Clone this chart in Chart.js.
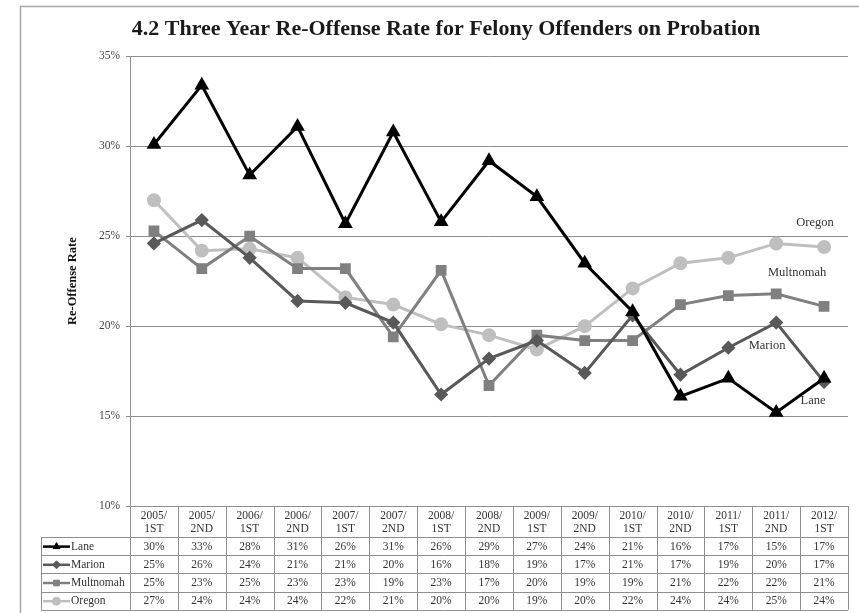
<!DOCTYPE html>
<html>
<head>
<meta charset="utf-8">
<script src="https://cdn.jsdelivr.net/npm/chart.js@4.4.1/dist/chart.umd.min.js"></script>
<style>
  body { margin: 0; background: #fff; }
  canvas { display: block; }
</style>
</head>
<body>
<canvas id="myChart" width="859" height="613"></canvas>
<script>
// categories (half-years), shown in the data table under the plot
var categories = ['2005/|1ST', '2005/|2ND', '2006/|1ST', '2006/|2ND', '2007/|1ST', '2007/|2ND',
  '2008/|1ST', '2008/|2ND', '2009/|1ST', '2009/|2ND', '2010/|1ST', '2010/|2ND',
  '2011/|1ST', '2011/|2ND', '2012/|1ST'];

// re-offense rates in percent
var lane      = [30.1, 33.4, 28.4, 31.1, 25.7, 30.8, 25.8, 29.2, 27.2, 23.5, 20.8, 16.1, 17.1, 15.2, 17.1];
var marion    = [24.6, 25.9, 23.8, 21.4, 21.3, 20.2, 16.2, 18.2, 19.2, 17.4, 20.6, 17.3, 18.8, 20.2, 16.9];
var multnomah = [25.3, 23.2, 25.0, 23.2, 23.2, 19.4, 23.1, 16.7, 19.5, 19.2, 19.2, 21.2, 21.7, 21.8, 21.1];
var oregon    = [27.0, 24.2, 24.3, 23.8, 21.6, 21.2, 20.1, 19.5, 18.7, 20.0, 22.1, 23.5, 23.8, 24.6, 24.4];

var yTicks = [10, 15, 20, 25, 30, 35];

var serif = "'Liberation Serif', 'DejaVu Serif', serif";
var gridColor = '#8e8e8e';
var textColor = '#333333';

// end-of-line labels, offset from the last point of each series
var endLabels = [
  { ds: 3, text: 'Oregon', dx: -9, dy: -24 },
  { ds: 2, text: 'Multnomah', dx: -27, dy: -34 },
  { ds: 1, text: 'Marion', dx: -57, dy: -36 },
  { ds: 0, text: 'Lane', dx: -11, dy: 22 }
];

function marker(ctx, style, radius, color, x, y) {
  if (Chart.helpers && Chart.helpers.drawPoint) {
    ctx.save();
    ctx.fillStyle = color;
    ctx.strokeStyle = color;
    ctx.lineWidth = 1;
    Chart.helpers.drawPoint(ctx, { pointStyle: style, radius: radius, rotation: 0, borderWidth: 1 }, x, y);
    ctx.restore();
  }
}

var tablePlugin = {
  id: 'dataTable',
  beforeDraw: function(chart) {
    var ctx = chart.ctx;
    ctx.save();
    ctx.fillStyle = '#fff';
    ctx.fillRect(0, 0, chart.width, chart.height);
    ctx.strokeStyle = '#a8a8a8';
    ctx.lineWidth = 1.5;
    ctx.strokeRect(20.5, 6.5, chart.width + 20, chart.height + 20);
    ctx.restore();
  },
  afterDraw: function(chart) {
    var ctx = chart.ctx;
    var x = chart.scales.x;
    var area = chart.chartArea;
    var n = categories.length;
    var colW = (area.right - area.left) / n;
    var top = area.bottom;
    var headH = 31;
    var rowH = 18.2;
    var legendLeft = 41;
    var bottom = top + headH + rowH * chart.data.datasets.length;

    ctx.save();
    ctx.strokeStyle = gridColor;
    ctx.lineWidth = 1;
    ctx.beginPath();
    // vertical column lines
    for (var i = 0; i <= n; i++) {
      var vx = Math.round(area.left + colW * i) + 0.5;
      ctx.moveTo(vx, top);
      ctx.lineTo(vx, bottom);
    }
    ctx.moveTo(legendLeft + 0.5, top + headH);
    ctx.lineTo(legendLeft + 0.5, bottom);
    for (var r = 0; r <= chart.data.datasets.length; r++) {
      var hy = Math.round(top + headH + rowH * r) + 0.5;
      ctx.moveTo(legendLeft, hy);
      ctx.lineTo(area.right, hy);
    }
    ctx.stroke();

    ctx.fillStyle = textColor;
    ctx.font = '11.5px ' + serif;
    ctx.textAlign = 'center';
    ctx.textBaseline = 'middle';
    categories.forEach(function(c, i) {
      var cx = x.getPixelForValue(i);
      var parts = c.split('|');
      ctx.fillText(parts[0], cx, top + 10);
      ctx.fillText(parts[1], cx, top + 23);
    });

    chart.data.datasets.forEach(function(ds, d) {
      var cy = top + headH + rowH * d + rowH / 2 + 0.5;
      ds.data.forEach(function(v, i) {
        ctx.fillStyle = textColor;
        ctx.textAlign = 'center';
        ctx.fillText(Math.round(v) + '%', x.getPixelForValue(i), cy);
      });
      // legend key
      ctx.strokeStyle = ds.borderColor;
      ctx.lineWidth = 2.5;
      ctx.beginPath();
      ctx.moveTo(43, cy);
      ctx.lineTo(70, cy);
      ctx.stroke();
      marker(ctx, ds.pointStyle, 4, ds.borderColor, 56.5, cy);
      ctx.fillStyle = textColor;
      ctx.textAlign = 'left';
      ctx.fillText(ds.label, 71, cy);
    });

    // labels at the ends of the lines
    ctx.font = '12.5px ' + serif;
    ctx.textAlign = 'center';
    ctx.fillStyle = textColor;
    endLabels.forEach(function(l) {
      var meta = chart.getDatasetMeta(l.ds);
      var p = meta.data[meta.data.length - 1];
      ctx.fillText(l.text, p.x + l.dx, p.y + l.dy);
    });
    ctx.restore();
  }
};

var ctx = document.getElementById('myChart').getContext('2d');
var chart = new Chart(ctx, {
  type: 'line',
  data: {
    labels: categories,
    datasets: [{
      label: 'Lane',
      data: lane,
      borderColor: '#000000',
      backgroundColor: '#000000',
      pointStyle: 'triangle',
      pointRadius: 5.5,
      borderWidth: 3
    },
    {
      label: 'Marion',
      data: marion,
      borderColor: '#595959',
      backgroundColor: '#595959',
      pointStyle: 'rectRot',
      pointRadius: 5,
      borderWidth: 3
    },
    {
      label: 'Multnomah',
      data: multnomah,
      borderColor: '#808080',
      backgroundColor: '#808080',
      pointStyle: 'rect',
      pointRadius: 5.5,
      borderWidth: 3
    },
    {
      label: 'Oregon',
      data: oregon,
      borderColor: '#bfbfbf',
      backgroundColor: '#bfbfbf',
      pointStyle: 'circle',
      pointRadius: 5.5,
      borderWidth: 3
    }]
  },
  options: {
    responsive: false,
    animation: false,
    layout: { padding: { left: 44, right: 11, top: 0, bottom: 0 } },
    elements: { line: { tension: 0 } },
    plugins: {
      legend: { display: false },
      tooltip: { enabled: false },
      title: {
        display: true,
        text: '4.2 Three Year Re-Offense Rate for Felony Offenders on Probation',
        color: '#1a1a1a',
        font: { family: serif, size: 22, weight: 'bold' },
        padding: { top: 16, bottom: 14 }
      }
    },
    scales: {
      x: {
        offset: true,
        grid: { display: false },
        border: { color: gridColor },
        ticks: { display: false },
        afterFit: function(scale) { scale.height = 107; }
      },
      y: {
        min: 10,
        max: 35,
        afterBuildTicks: function(scale) {
          scale.ticks = yTicks.map(function(v) { return { value: v }; });
        },
        ticks: {
          color: '#444444',
          font: { family: serif, size: 11.5 },
          padding: 6,
          callback: function(v) { return v + '%'; }
        },
        grid: { color: gridColor, tickLength: 4 },
        border: { color: gridColor },
        title: {
          display: true,
          text: 'Re-Offense Rate',
          color: '#111111',
          font: { family: serif, size: 12.5, weight: 'bold' },
          padding: { top: 21, bottom: 0 }
        },
        afterFit: function(scale) { scale.width = 86; }
      }
    }
  },
  plugins: [tablePlugin]
});
</script>
</body>
</html>
